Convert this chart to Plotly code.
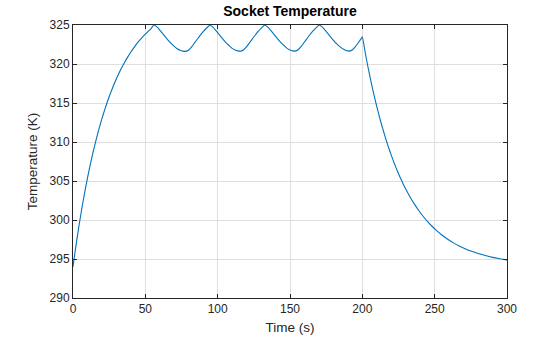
import plotly.graph_objects as go

# Time (s) and socket temperature (K)
time_s = [
    0, 2, 4, 6, 8, 10, 12, 14, 16, 18, 20, 22, 24, 26, 28, 30, 32, 34, 36, 38,
    40, 42, 44, 46, 48, 50, 52, 54, 56,
    58, 60, 62, 64, 66, 68, 70, 72, 74, 76, 78,
    80, 82, 84, 86, 88, 90, 92, 94, 94.6,
    96.5, 98.5, 100.5, 102.5, 104.5, 106.5, 108.5, 110, 112, 114, 116,
    118, 120, 122, 124, 126, 128, 130, 132, 132.5,
    134.5, 136.5, 138.5, 140.5, 142.5, 144.5, 146.5, 148, 150, 152, 153.6,
    155.6, 157.6, 159.6, 161.6, 163.6, 165.6, 167.6, 169.6, 170.2,
    172.2, 174.2, 176.2, 178.2, 180.2, 182.2, 184.2, 186, 188, 190, 191.2,
    193.2, 195.2, 197.2, 199.2, 200,
    202, 204, 206, 208, 210, 212, 214, 216, 218, 220, 222, 224, 226, 228, 230,
    233, 236, 239, 242, 245, 248, 251, 255, 259, 263, 267, 271, 275, 280,
    285, 290, 295, 300,
]
temperature_k = [
    294.0, 296.65, 299.1, 301.36, 303.45, 305.37, 307.15, 308.79, 310.31, 311.71,
    313.0, 314.19, 315.29, 316.3, 317.24, 318.11, 318.91, 319.64, 320.33, 320.95,
    321.53, 322.07, 322.57, 323.02, 323.44, 323.83, 324.19, 324.55, 325.0,
    324.75, 324.35, 323.9, 323.45, 323.0, 322.6, 322.25, 321.95, 321.75, 321.65, 321.62,
    321.8, 322.2, 322.7, 323.2, 323.7, 324.15, 324.55, 324.9, 325.0,
    324.75, 324.35, 323.9, 323.45, 323.0, 322.6, 322.25, 322.0, 321.8, 321.68, 321.65,
    321.82, 322.22, 322.72, 323.22, 323.72, 324.17, 324.57, 324.92, 325.0,
    324.75, 324.35, 323.9, 323.45, 323.0, 322.6, 322.25, 322.0, 321.8, 321.68, 321.65,
    321.82, 322.22, 322.72, 323.22, 323.72, 324.17, 324.57, 324.92, 325.0,
    324.75, 324.35, 323.9, 323.45, 323.0, 322.6, 322.25, 322.0, 321.8, 321.68, 321.65,
    321.82, 322.22, 322.72, 323.25, 323.5,
    321.44, 319.52, 317.74, 316.08, 314.54, 313.1, 311.77, 310.53, 309.38, 308.31,
    307.31, 306.38, 305.52, 304.72, 303.98,
    302.96, 302.04, 301.22, 300.48, 299.82, 299.23, 298.7, 298.08, 297.54, 297.07,
    296.67, 296.32, 296.02, 295.7,
    295.44, 295.21, 295.03, 294.87,
]

x_ticks = [0, 50, 100, 150, 200, 250, 300]
y_ticks = [290, 295, 300, 305, 310, 315, 320, 325]

title_text = "Socket Temperature"
x_label = "Time (s)"
y_label = "Temperature (K)"

FONT = "Liberation Sans, Arial, Helvetica, sans-serif"
AX = "#262626"
GRID = "#dfdfdf"

W, H = 560, 337

fig = go.Figure()
fig.add_trace(go.Scatter(
    x=time_s, y=temperature_k, mode="lines",
    line=dict(color="#0072BD", width=1.1, shape="spline", smoothing=0.5),
    showlegend=False, hoverinfo="x+y",
))

axis_common = dict(
    showline=True, linecolor=AX, linewidth=1, mirror="ticks",
    ticks="inside", ticklen=4, tickwidth=1, tickcolor=AX,
    showgrid=True, gridcolor=GRID, gridwidth=1,
    zeroline=False, automargin=False,
    tickfont=dict(family=FONT, size=12, color=AX),
)

fig.update_layout(
    width=W, height=H,
    margin=dict(l=73, r=53, t=25, b=39, autoexpand=False),
    paper_bgcolor="white", plot_bgcolor="white",
    title=dict(
        text=title_text, x=290 / W, xanchor="center", xref="container",
        y=1 - 11.5 / H, yanchor="middle", yref="container",
        font=dict(family=FONT, size=14, color="#000000", weight="bold"),
        automargin=False,
    ),
    xaxis=dict(
        range=[0, 300], tickvals=x_ticks, ticktext=[str(v) for v in x_ticks],
        title=dict(text=x_label, standoff=7,
                   font=dict(family=FONT, size=13.5, color=AX)),
        **axis_common,
    ),
    yaxis=dict(
        range=[290, 325], tickvals=y_ticks, ticktext=[str(v) for v in y_ticks],
        title=dict(text=y_label, standoff=8,
                   font=dict(family=FONT, size=13.5, color=AX)),
        **axis_common,
    ),
)

fig.write_html(
    "out.html",
    config={"displayModeBar": False},
    post_script="document.body.style.margin='0px';document.body.style.overflow='hidden';",
)
